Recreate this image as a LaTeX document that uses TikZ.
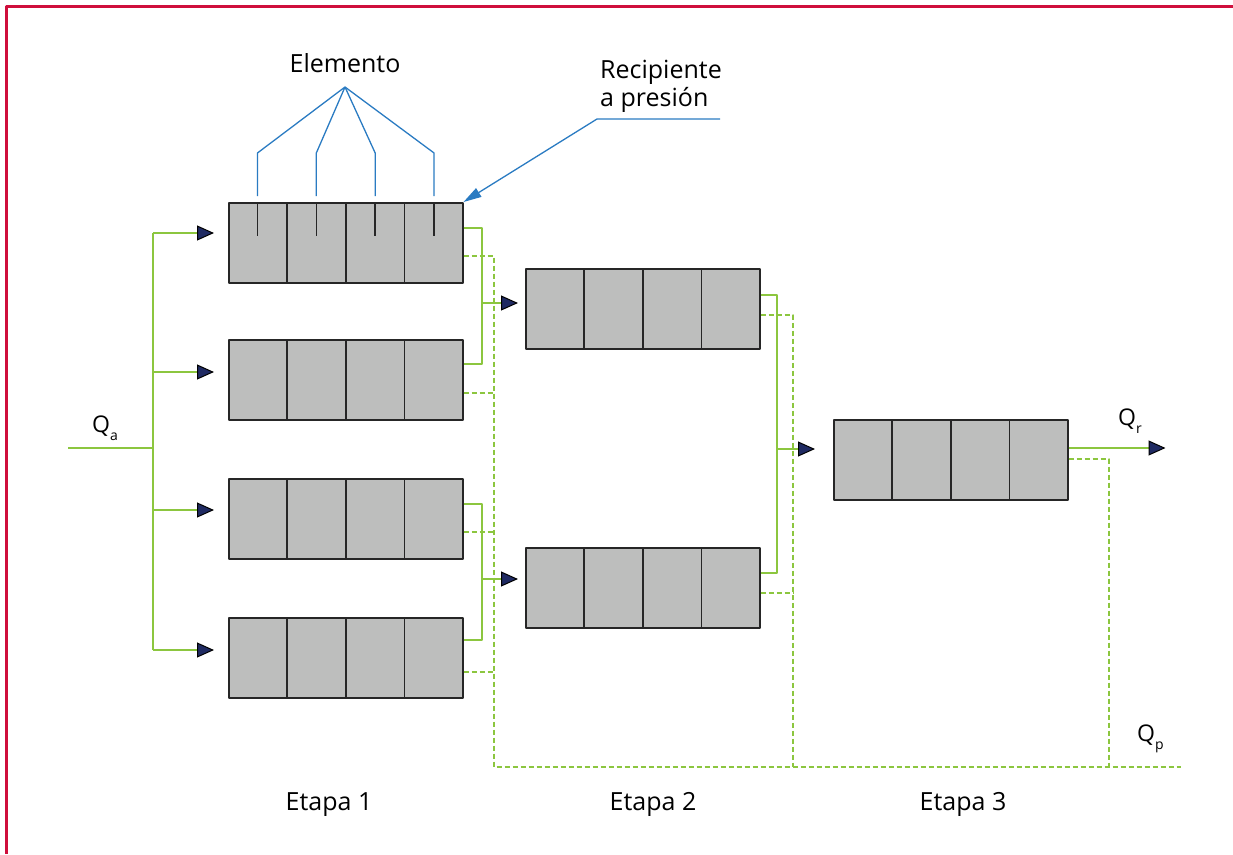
\documentclass[tikz,border=0pt]{standalone}
\usepackage{fontspec}
\setmainfont{Open Sans}
\usetikzlibrary{arrows.meta,calc}
\definecolor{marcorojo}{HTML}{CF0F3C}
\definecolor{verde}{HTML}{8CC63F}
\definecolor{azul}{HTML}{2A7BC2}
\definecolor{marino}{HTML}{1F2A62}
\definecolor{gris}{HTML}{BDBEBD}
\newcommand{\subq}[1]{\raisebox{-8pt}{\fontsize{14}{16}\selectfont #1}}
\tikzset{
  marco/.style={marcorojo,line width=2.6pt},
  modulo/.style={draw=black!85,line width=1.5pt,fill=gris,minimum width=234pt,minimum height=80pt,inner sep=0pt,anchor=north west},
  tabique/.style={black!85,line width=1.5pt},
  flujo/.style={verde,line width=1.3pt},
  rechazo/.style={verde,line width=1.3pt,dash pattern=on 5pt off 3pt},
  entra/.style={flujo,-{Triangle[length=17pt,width=15pt,color=black,fill=marino,line width=1pt]}},
  guia/.style={azul,line width=1.3pt},
  rotulo/.style={inner sep=0pt},
  caudal/.style={rotulo,anchor=base west,font=\fontsize{23}{28}\selectfont},
}
\begin{document}
\begin{tikzpicture}[x=1pt,y=-1pt,line join=round,font=\fontsize{25}{30}\selectfont]
  \useasboundingbox (0,0) rectangle (1233,854);
  \draw[marco] (1233,6.3) -- (6.3,6.3) -- (6.3,854);
  % modulos de cada etapa
  \foreach \nom/\x/\y in {m11/228/202, m12/228/339, m13/228/478, m14/228/617, m21/525/268, m22/525/547, m31/833/419}{
    \node[modulo] (\nom) at (\x,\y) {};
    \foreach \k in {1,2,3}
      \draw[tabique] ($(\nom.north west)!\k/4!(\nom.north east)$) -- ($(\nom.south west)!\k/4!(\nom.south east)$);
  }
  % entradas (e), permeado (s) y rechazo (r)
  \foreach \nom/\e/\s/\r/\g in {m11/31/26/54/14, m12/33/25/54/14, m13/32/26/54/14, m14/33/23/55/14, m21/35/27/47/7, m22/32/26/46/7, m31/30/29/40/18}{
    \coordinate (e\nom) at ($(\nom.north west)+(-\g,\e)$);
    \coordinate (s\nom) at ($(\nom.north east)+(0,\s)$);
    \coordinate (r\nom) at ($(\nom.north east)+(0,\r)$);
  }
  \coordinate (qa) at (68,448);
  \coordinate (b0) at (153,448);
  \coordinate (b1) at (482,0);
  \coordinate (b2) at (777,0);
  \coordinate (d1) at (494,767);
  \coordinate (d2) at (793,767);
  \coordinate (d3) at (1109,767);
  \coordinate (qp) at (1181,767);
  \coordinate (qr) at ($(sm31)+(97,0)$);

  \draw[rechazo] (rm11) -| (d1) -- (qp);
  \foreach \n in {2,3,4}
    \draw[rechazo] (rm1\n) -- (rm1\n -| d1);
  \draw[rechazo] (rm21) -| (d2);
  \draw[rechazo] (rm22) -- (rm22 -| d2);
  \draw[rechazo] (rm31) -| (d3);

  \draw[flujo] (qa) -- (b0);
  \draw[flujo] (b0 |- em11) -- (b0 |- em14);
  \foreach \n in {1,...,4}
    \draw[entra] (b0 |- em1\n) -- (em1\n);
  \draw[flujo] (sm11) -| (b1 |- sm12) -- (sm12);
  \draw[flujo] (sm13) -| (b1 |- sm14) -- (sm14);
  \draw[entra] (b1 |- em21) -- (em21);
  \draw[entra] (b1 |- em22) -- (em22);
  \draw[flujo] (sm21) -| (b2 |- sm22) -- (sm22);
  \draw[entra] (b2 |- em31) -- (em31);
  \draw[entra] (sm31) -- (qr);

  % rotulos
  \node[rotulo,anchor=base] (elem) at (345,72) {Elemento};
  \coordinate (vertice) at (345,87);
  \foreach \k in {1,3,5,7}{
    \coordinate (t\k) at ($(m11.north west)!\k/8!(m11.north east)$);
    \draw[guia] (vertice) -- ($(t\k)+(0,-49)$) -- ($(t\k)+(0,-6)$);
    \draw[tabique] (t\k) -- ++(0,34);
  }
  \node[rotulo,anchor=base west] (rec1) at (600,78) {Recipiente};
  \node[rotulo,anchor=base west] (rec2) at (600,106) {a presión};
  \coordinate (rc) at (720,119);
  \draw[guia,-{Triangle[length=18pt,width=10pt]}] (rc) -- (597,119) -- (m11.north east);

  \node[caudal] (lqa) at (92,432) {Q\subq{a}};
  \node[caudal] (lqr) at (1118,425) {Q\subq{r}};
  \node[caudal] (lqp) at (1137,741) {Q\subq{p}};
  \foreach \x/\n in {329/1,653/2,963/3}
    \node[rotulo,anchor=base] (et\n) at (\x,810) {Etapa \n};
\end{tikzpicture}
\end{document}
